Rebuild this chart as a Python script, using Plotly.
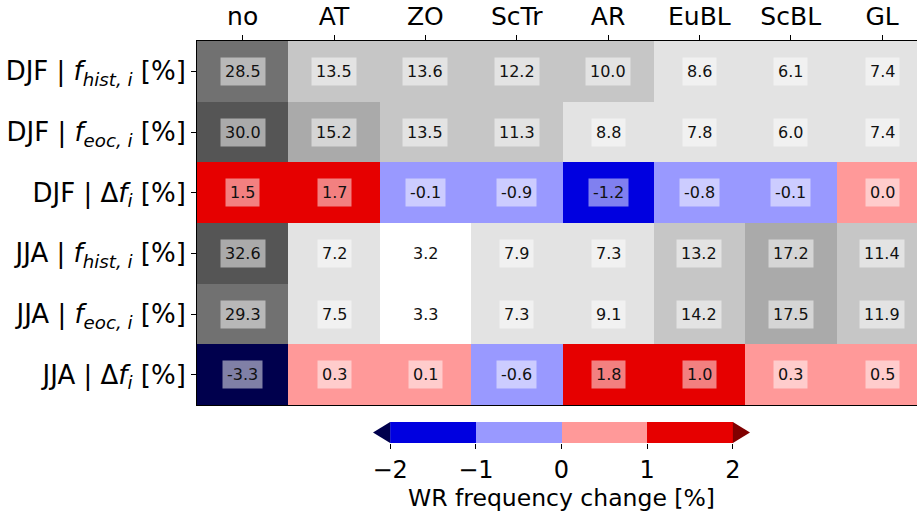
import plotly.graph_objects as go

# ---------------- data ----------------
regimes = ["no", "AT", "ZO", "ScTr", "AR", "EuBL", "ScBL", "GL"]
row_labels = [
    "DJF | <i>f</i><sub><i>hist, i</i></sub> [%]",
    "DJF | <i>f</i><sub><i>eoc, i</i></sub> [%]",
    "DJF | Δ<i>f</i><sub><i>i</i></sub> [%]",
    "JJA | <i>f</i><sub><i>hist, i</i></sub> [%]",
    "JJA | <i>f</i><sub><i>eoc, i</i></sub> [%]",
    "JJA | Δ<i>f</i><sub><i>i</i></sub> [%]",
]
djf_hist = [28.5, 13.5, 13.6, 12.2, 10.0, 8.6, 6.1, 7.4]
djf_eoc = [30.0, 15.2, 13.5, 11.3, 8.8, 7.8, 6.0, 7.4]
djf_delta = [1.5, 1.7, -0.1, -0.9, -1.2, -0.8, -0.1, 0.0]
jja_hist = [32.6, 7.2, 3.2, 7.9, 7.3, 13.2, 17.2, 11.4]
jja_eoc = [29.3, 7.5, 3.3, 7.3, 9.1, 14.2, 17.5, 11.9]
jja_delta = [-3.3, 0.3, 0.1, -0.6, 1.8, 1.0, 0.3, 0.5]

rows = [djf_hist, djf_eoc, djf_delta, jja_hist, jja_eoc, jja_delta]
is_delta = [False, False, True, False, False, True]

# colour classes
freq_bounds = [0, 5, 10, 15, 20, 25, 30, 35]
freq_colors = ["#ffffff", "#e3e3e3", "#c6c6c6", "#aaaaaa", "#8e8e8e", "#717171", "#555555"]
delta_bounds = [-4, -2, -1, 0, 1, 2, 4]
delta_colors = ["#00004d", "#0000e0", "#9999ff", "#ff9999", "#e60000", "#800000"]
cbar_ticks = [-2, -1, 0, 1, 2]
cbar_centers = [-1.5, -0.5, 0.5, 1.5]

FONT = "DejaVu Sans"


def discrete_scale(bounds, colors):
    lo, hi = bounds[0], bounds[-1]
    eps = 1e-6
    scale = []
    for i, c in enumerate(colors):
        a = (bounds[i] - lo) / (hi - lo)
        b = (bounds[i + 1] - lo) / (hi - lo)
        a = 0.0 if i == 0 else a - eps
        b = 1.0 if i == len(colors) - 1 else b - eps
        scale.append([a, c])
        scale.append([b, c])
    return scale


nrow, ncol = len(rows), len(regimes)
xs = list(range(ncol))
ys = list(range(nrow))
z_freq = [[None if is_delta[r] else v for v in rows[r]] for r in range(nrow)]
z_delta = [[v if is_delta[r] else None for v in rows[r]] for r in range(nrow)]

fig = go.Figure()
fig.add_trace(go.Heatmap(
    x=xs, y=ys, z=z_freq, zmin=freq_bounds[0], zmax=freq_bounds[-1],
    colorscale=discrete_scale(freq_bounds, freq_colors), showscale=False,
    hoverongaps=False, xaxis="x", yaxis="y"))
fig.add_trace(go.Heatmap(
    x=xs, y=ys, z=z_delta, zmin=delta_bounds[0], zmax=delta_bounds[-1],
    colorscale=discrete_scale(delta_bounds, delta_colors), showscale=False,
    hoverongaps=False, xaxis="x", yaxis="y"))

# colour bar built as its own small heatmap
fig.add_trace(go.Heatmap(
    x=cbar_centers, y=[0.5], z=[cbar_centers], zmin=delta_bounds[0], zmax=delta_bounds[-1],
    colorscale=discrete_scale(delta_bounds, delta_colors), showscale=False,
    xaxis="x2", yaxis="y2"))

# cell labels
annotations = []
for r in range(nrow):
    for c in range(ncol):
        annotations.append(dict(
            x=xs[c], y=ys[r], xref="x", yref="y", text=f"{rows[r][c]:.1f}",
            showarrow=False, font=dict(family=FONT, size=16, color="#111111"),
            bgcolor="rgba(255,255,255,0.5)", borderpad=4))

# extend triangles of the colour bar
ext = 0.2
shapes = [
    dict(type="path", xref="x2", yref="y2",
         path=f"M {cbar_ticks[0]},0 L {cbar_ticks[0]},1 L {cbar_ticks[0]-ext},0.5 Z",
         fillcolor=delta_colors[0], line=dict(width=0)),
    dict(type="path", xref="x2", yref="y2",
         path=f"M {cbar_ticks[-1]},0 L {cbar_ticks[-1]},1 L {cbar_ticks[-1]+ext},0.5 Z",
         fillcolor=delta_colors[-1], line=dict(width=0)),
]

W, H = 917, 525
ml, mr, mt, mb = 197, 0, 41, 82
ph = H - mt - mb
pw = W - ml - mr
main_bottom = (443 - 405) / ph
cb_top = (443 - 422) / ph
cb_x0 = (373 - 197) / pw
cb_x1 = (750 - 197) / pw
col_px = 91.34
x_right = (pw / col_px) - 0.5

fig.update_layout(
    width=W, height=H,
    margin=dict(l=ml, r=mr, t=mt, b=mb, pad=0, autoexpand=False),
    paper_bgcolor="white", plot_bgcolor="white",
    font=dict(family=FONT, color="black"),
    xaxis=dict(domain=[0, 1], range=[-0.5, x_right], side="top", tickmode="array",
               tickvals=xs, ticktext=regimes, ticks="outside", ticklen=5, tickwidth=1,
               tickcolor="black", showline=True, mirror=True, linecolor="black", linewidth=1,
               showgrid=False, zeroline=False, tickfont=dict(size=25, family=FONT),
               anchor="y", automargin=False),
    yaxis=dict(domain=[main_bottom, 1], range=[nrow - 0.5, -0.5], tickmode="array",
               tickvals=ys, ticktext=row_labels, ticks="outside", ticklen=5, tickwidth=1,
               tickcolor="black", showline=True, mirror=False, linecolor="black", linewidth=1,
               showgrid=False, zeroline=False, tickfont=dict(size=26, family=FONT),
               anchor="x", automargin=False),
    xaxis2=dict(domain=[cb_x0, cb_x1], range=[cbar_ticks[0] - ext, cbar_ticks[-1] + ext],
                tickmode="array", tickvals=cbar_ticks, ticks="outside", ticklen=5,
                tickcolor="black", showline=False, showgrid=False, zeroline=False,
                tickfont=dict(size=24, family=FONT), anchor="y2", automargin=False,
                title=dict(text="WR frequency change [%]", font=dict(size=23.5, family=FONT),
                           standoff=6)),
    yaxis2=dict(domain=[0, cb_top], range=[0, 1], visible=False, anchor="x2"),
    annotations=annotations,
    shapes=shapes,
    showlegend=False,
)

# remove the browser's default 8px page margin so the figure fills the window
fig.write_html("out.html", config={"displayModeBar": False},
               post_script="document.body.style.margin='0px';")
